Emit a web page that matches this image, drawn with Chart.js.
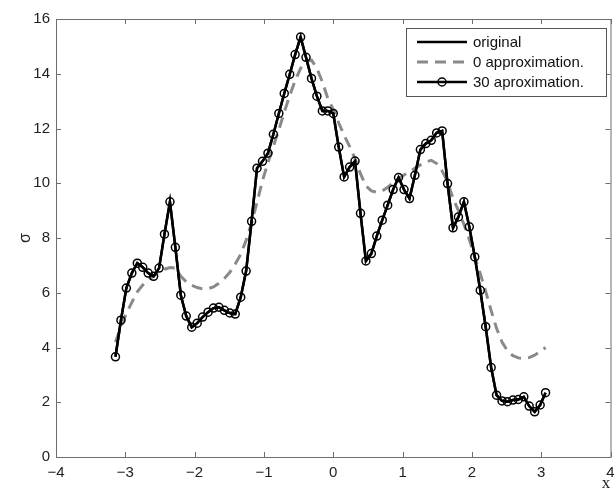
<!DOCTYPE html>
<html>
<head>
<meta charset="utf-8">
<script src="https://cdn.jsdelivr.net/npm/chart.js@4/dist/chart.umd.min.js"></script>
<style>
  body { margin: 0; background: #fff; }
  canvas { display: block; }
</style>
</head>
<body>
<canvas id="sigmaChart" width="616" height="490"></canvas>
<script>
// x sample points (80 points from -pi to pi)
const xs = [
  -3.142, -3.063, -2.985, -2.906, -2.827, -2.749, -2.670, -2.592, -2.513, -2.435,
  -2.356, -2.278, -2.199, -2.121, -2.042, -1.963, -1.885, -1.806, -1.728, -1.649,
  -1.571, -1.492, -1.414, -1.335, -1.257, -1.178, -1.100, -1.021, -0.942, -0.864,
  -0.785, -0.707, -0.628, -0.550, -0.471, -0.393, -0.314, -0.236, -0.157, -0.079,
   0.000,  0.079,  0.157,  0.236,  0.314,  0.393,  0.471,  0.550,  0.628,  0.707,
   0.785,  0.864,  0.942,  1.021,  1.100,  1.178,  1.257,  1.335,  1.414,  1.492,
   1.571,  1.649,  1.728,  1.806,  1.885,  1.963,  2.042,  2.121,  2.199,  2.278,
   2.356,  2.435,  2.513,  2.592,  2.670,  2.749,  2.827,  2.906,  2.985,  3.063
];

// 30 approximation (sits on top of the original curve)
const approx30 = [
  3.66, 5.00, 6.17, 6.72, 7.08, 6.93, 6.72, 6.60, 6.90, 8.14,
  9.32, 7.66, 5.91, 5.15, 4.74, 4.89, 5.11, 5.29, 5.44, 5.47,
  5.36, 5.26, 5.22, 5.84, 6.79, 8.61, 10.55, 10.80, 11.10, 11.79,
  12.55, 13.28, 13.98, 14.70, 15.34, 14.60, 13.83, 13.18, 12.64, 12.64,
  12.55, 11.32, 10.23, 10.59, 10.81, 8.90, 7.16, 7.43, 8.07, 8.65,
  9.20, 9.77, 10.21, 9.77, 9.44, 10.29, 11.23, 11.45, 11.57, 11.84,
  11.91, 9.99, 8.37, 8.77, 9.32, 8.41, 7.31, 6.09, 4.76, 3.27,
  2.26, 2.05, 2.02, 2.08, 2.10, 2.20, 1.86, 1.65, 1.90, 2.35
];

// original curve: same values as the 30 approximation at this scale
const original = approx30;

// 0 approximation (smooth dashed curve)
const approx0 = [
  4.20, 4.75, 5.25, 5.65, 6.03, 6.28, 6.47, 6.62, 6.75, 6.86,
  6.92, 6.90, 6.60, 6.40, 6.27, 6.19, 6.14, 6.15, 6.21, 6.35,
  6.52, 6.75, 7.05, 7.40, 7.92, 8.55, 9.30, 10.10, 10.75, 11.35,
  11.95, 12.60, 13.20, 13.75, 14.20, 14.45, 14.50, 14.20, 13.70, 13.10,
  12.70, 12.20, 11.75, 11.35, 10.90, 10.35, 9.90, 9.72, 9.67, 9.72,
  9.85, 10.02, 10.17, 10.30, 10.42, 10.55, 10.67, 10.78, 10.84, 10.72,
  10.45, 10.05, 9.45, 9.00, 8.50, 7.95, 7.30, 6.70, 6.05, 5.35,
  4.70, 4.20, 3.88, 3.70, 3.62, 3.60, 3.63, 3.72, 3.85, 4.00
];

const xTicks = [-4, -3, -2, -1, 0, 1, 2, 3, 4];
const yTicks = [0, 2, 4, 6, 8, 10, 12, 14, 16];
const legendLabels = ["original", "0 approximation.", "30 aproximation."];

const toPoints = (ys) => xs.map((x, i) => ({ x: x, y: ys[i] }));

const axisColor = "#6e6e6e";
const textFont = "15px 'Liberation Sans', Arial, sans-serif";

// box, inward ticks, axis titles and legend (matlab style)
const matlabFrame = {
  id: "matlabFrame",
  afterDraw(chart) {
    const ctx = chart.ctx;
    const a = chart.chartArea;
    const sx = chart.scales.x;
    const sy = chart.scales.y;
    ctx.save();
    ctx.strokeStyle = axisColor;
    ctx.lineWidth = 1;
    ctx.strokeRect(a.left + 0.5, a.top + 0.5, a.right - a.left, a.bottom - a.top);

    ctx.beginPath();
    xTicks.forEach((t) => {
      const px = Math.round(sx.getPixelForValue(t)) + 0.5;
      ctx.moveTo(px, a.bottom);
      ctx.lineTo(px, a.bottom - 5);
      ctx.moveTo(px, a.top);
      ctx.lineTo(px, a.top + 5);
    });
    yTicks.forEach((t) => {
      const py = Math.round(sy.getPixelForValue(t)) + 0.5;
      ctx.moveTo(a.left, py);
      ctx.lineTo(a.left + 5, py);
      ctx.moveTo(a.right, py);
      ctx.lineTo(a.right - 5, py);
    });
    ctx.stroke();

    // axis titles
    ctx.fillStyle = "#222";
    ctx.font = "17px 'Liberation Serif', serif";
    ctx.textAlign = "center";
    ctx.textBaseline = "middle";
    ctx.fillText("x", 606, 484);
    ctx.save();
    ctx.translate(26, sy.getPixelForValue(8));
    ctx.rotate(-Math.PI / 2);
    ctx.font = "16px 'Liberation Sans', Arial, sans-serif";
    ctx.fillText("σ", 0, 0);
    ctx.restore();

    // legend
    const bx = 406, by = 28, bw = 200, bh = 68;
    ctx.fillStyle = "#fff";
    ctx.fillRect(bx, by, bw, bh);
    ctx.strokeStyle = "#555";
    ctx.strokeRect(bx + 0.5, by + 0.5, bw, bh);
    const rows = [42, 62, 82];
    const x0 = 417, x1 = 467;

    ctx.lineWidth = 2.5;
    ctx.strokeStyle = "#000";
    ctx.beginPath();
    ctx.moveTo(x0, rows[0]);
    ctx.lineTo(x1, rows[0]);
    ctx.stroke();

    ctx.strokeStyle = "#8a8a8a";
    ctx.lineWidth = 3;
    ctx.setLineDash([11, 7]);
    ctx.beginPath();
    ctx.moveTo(x0, rows[1]);
    ctx.lineTo(x1, rows[1]);
    ctx.stroke();
    ctx.setLineDash([]);

    ctx.strokeStyle = "#000";
    ctx.lineWidth = 2.5;
    ctx.beginPath();
    ctx.moveTo(x0, rows[2]);
    ctx.lineTo(x1, rows[2]);
    ctx.stroke();
    ctx.lineWidth = 1.5;
    ctx.beginPath();
    ctx.arc((x0 + x1) / 2, rows[2], 4, 0, Math.PI * 2);
    ctx.stroke();

    ctx.fillStyle = "#111";
    ctx.font = textFont;
    ctx.textAlign = "left";
    legendLabels.forEach((lbl, i) => ctx.fillText(lbl, 473, rows[i] + 1));
    ctx.restore();
  }
};

const ctx = document.getElementById("sigmaChart").getContext("2d");

new Chart(ctx, {
  type: "line",
  data: {
    datasets: [
      {
        label: legendLabels[2],
        data: toPoints(approx30),
        borderColor: "#000",
        borderWidth: 2.5,
        pointRadius: 4,
        pointBorderWidth: 1.5,
        pointBorderColor: "#000",
        pointBackgroundColor: "rgba(0,0,0,0)",
        order: 0
      },
      {
        label: legendLabels[0],
        data: toPoints(original),
        borderColor: "#000",
        borderWidth: 2.5,
        pointRadius: 0,
        order: 1
      },
      {
        label: legendLabels[1],
        data: toPoints(approx0),
        borderColor: "#8a8a8a",
        borderWidth: 3,
        borderDash: [11, 7],
        pointRadius: 0,
        order: 2
      }
    ]
  },
  options: {
    responsive: false,
    animation: false,
    devicePixelRatio: 1,
    layout: { padding: { top: 19, right: 5, left: 0, bottom: 0 } },
    plugins: {
      legend: { display: false },
      tooltip: { enabled: false }
    },
    scales: {
      x: {
        type: "linear",
        min: -4,
        max: 4,
        grid: { display: false, drawTicks: false },
        border: { display: false },
        ticks: {
          stepSize: 1,
          padding: 7,
          color: "#222",
          font: { family: "'Liberation Sans', Arial, sans-serif", size: 15 },
          callback: (v) => String(v).replace("-", "\u2212")
        },
        afterFit: (s) => { s.height = 33; s.paddingLeft = 0; s.paddingRight = 0; }
      },
      y: {
        min: 0,
        max: 16,
        grid: { display: false, drawTicks: false },
        border: { display: false },
        ticks: {
          stepSize: 2,
          padding: 6,
          color: "#222",
          font: { family: "'Liberation Sans', Arial, sans-serif", size: 15 }
        },
        afterFit: (s) => { s.width = 56; s.paddingTop = 0; s.paddingBottom = 0; }
      }
    }
  },
  plugins: [matlabFrame]
});
</script>
</body>
</html>
